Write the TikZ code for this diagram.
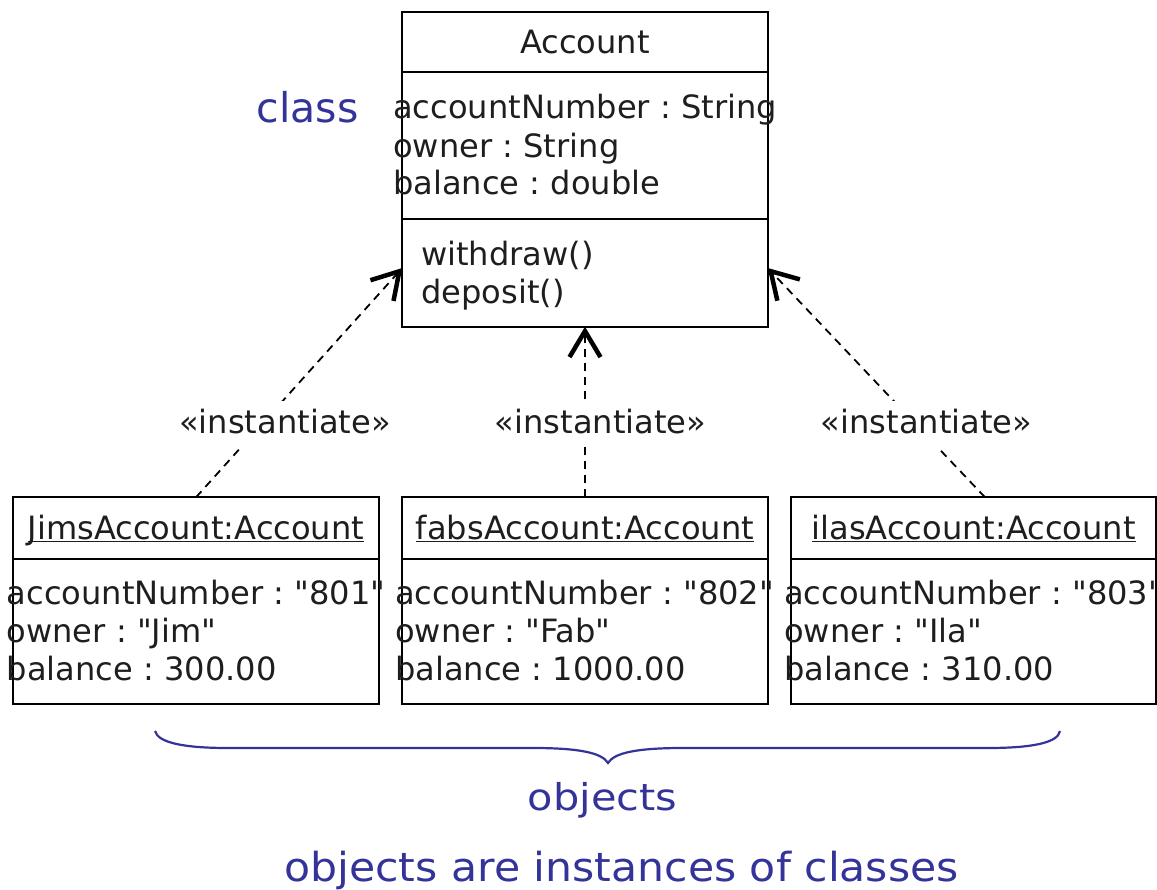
\documentclass[tikz,border=0pt]{standalone}
\usepackage{fontspec}
\setmainfont{DejaVu Sans}[Ligatures=TeXOff]
\usepackage{graphicx}
\usetikzlibrary{arrows.meta}
\frenchspacing

\definecolor{ink}{RGB}{30,30,30}
\definecolor{note}{RGB}{51,51,153}

% underlined object name with a rule just below the baseline
\newcommand\objname[1]{\setbox0\hbox{#1}\rlap{\rule[-3pt]{\wd0}{1.6pt}}\box0}

\tikzset{
  umlbox/.style={draw=black, line width=2pt, inner sep=0pt, outer sep=0pt,
                 minimum width=365.4pt},
  sep/.style={draw=black, line width=2pt},
  txt/.style={inner sep=0pt, anchor=base west, text=ink,
              font=\fontsize{32.1}{38}\selectfont},
  ctxt/.style={txt, anchor=base},
  instline/.style={draw=black, line width=1.8pt, dash pattern=on 8pt off 6pt,
                   -{Straight Barb[length=26pt,width=31pt,line width=4.5pt]}},
  stereo/.style={ctxt, fill=white, text height=26pt, text depth=8pt, inner sep=6pt},
  notetxt/.style={inner sep=0pt, anchor=base, text=note},
}

\begin{document}
\begin{tikzpicture}[x=1pt, y=-1pt]
\useasboundingbox (0,0) rectangle (1157,890);

% ---- class Account ----
\node[umlbox, minimum height=315pt] (cls) at (585,169.2) {};
\draw[sep] (402.3,72) -- (767.7,72);
\draw[sep] (402.3,219) -- (767.7,219);
\node[ctxt] (clsname) at (585,53.3) {Account};
\node[txt] (ca1) at (393,119) {accountNumber : String};
\node[txt] (ca2) at (393,157.3) {owner : String};
\node[txt] (ca3) at (393,194.8) {balance : double};
\node[txt] (cm1) at (421,266) {withdraw()};
\node[txt] (cm2) at (421,303.3) {deposit()};

% ---- objects ----
\node[umlbox, minimum height=206.7pt] (obj1) at (196,600.65) {};
\node[umlbox, minimum height=206.7pt] (obj2) at (585,600.65) {};
\node[umlbox, minimum height=206.7pt] (obj3) at (973.7,600.65) {};
\draw[sep] (13.3,559) -- (378.7,559);
\draw[sep] (402.3,559) -- (767.7,559);
\draw[sep] (791,559) -- (1156.3,559);

\node[ctxt] (o1name) at (196,539.3) {\objname{JimsAccount:Account}};
\node[txt] (o1a) at (6.5,604.3) {accountNumber : "801"};
\node[txt] (o1b) at (6.5,642.5) {owner : "Jim"};
\node[txt] (o1c) at (6.5,680) {balance : 300.00};

\node[ctxt] (o2name) at (585,539.3) {\objname{fabsAccount:Account}};
\node[txt] (o2a) at (395,604.3) {accountNumber : "802"};
\node[txt] (o2b) at (395,642.5) {owner : "Fab"};
\node[txt] (o2c) at (395,680) {balance : 1000.00};

\node[ctxt] (o3name) at (973.7,539.3) {\objname{ilasAccount:Account}};
\node[txt] (o3a) at (784,604.3) {accountNumber : "803"};
\node[txt] (o3b) at (784,642.5) {owner : "Ila"};
\node[txt] (o3c) at (784,680) {balance : 310.00};

% ---- instantiate dependencies ----
\coordinate (clsL) at (402.3,268);
\coordinate (clsR) at (767.7,268);
\coordinate (o3top) at (985,497.3);
\draw[instline] (obj1.north) -- (clsL);
\draw[instline] (obj2.north) -- (cls.south);
\draw[instline] (o3top) -- (clsR);
\node[stereo] (st1) at (285,433.5) {«instantiate»};
\node[stereo] (st2) at (600.5,433.5) {«instantiate»};
\node[stereo] (st3) at (926.5,433.5) {«instantiate»};

% ---- annotations ----
\node[notetxt, font=\fontsize{41}{48}\selectfont] (lblclass) at (307.5,122.3) {class};
\draw[note, line width=2.2pt]
  (155,731) .. controls (158,743) and (185,748) .. (228,748)
  -- (533,748) .. controls (580,748) and (602,753) .. (608,763)
  .. controls (614,753) and (636,748) .. (683,748)
  -- (988,748) .. controls (1031,748) and (1058,743) .. (1060,731);
\node[notetxt, font=\fontsize{37}{44}\selectfont] (lblobj) at (602.5,810.5)
  {\scalebox{1.12}[1]{objects}};
\node[notetxt, font=\fontsize{40}{48}\selectfont] (lblnote) at (621.5,881.5)
  {\scalebox{1.065}[1]{objects are instances of classes}};
\end{tikzpicture}
\end{document}
